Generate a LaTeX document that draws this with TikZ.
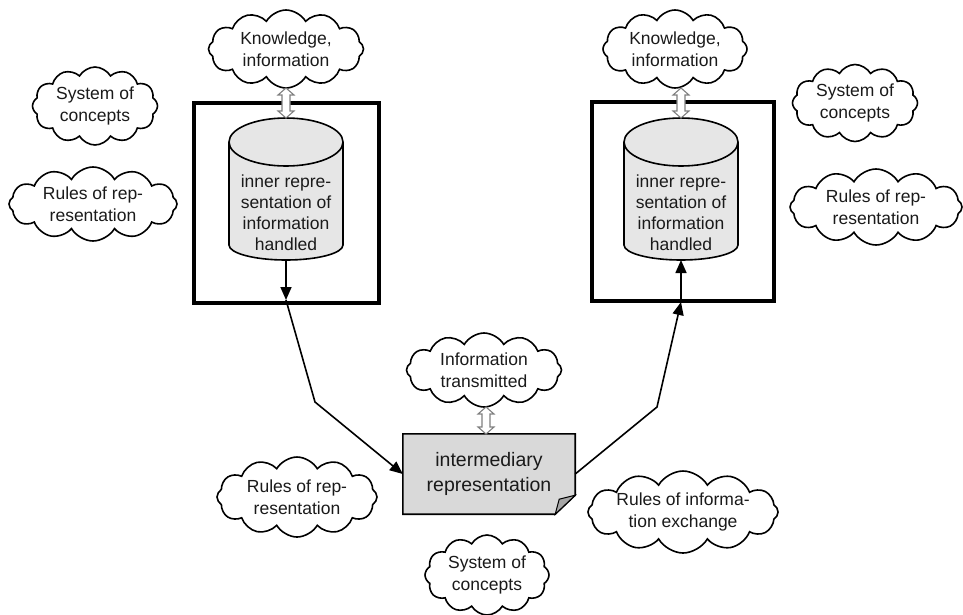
\documentclass[tikz,border=0pt]{standalone}
\usepackage{fontspec}
\setmainfont{Liberation Sans}
\usetikzlibrary{shapes.symbols,arrows.meta,calc}
\definecolor{cylgray}{HTML}{E6E6E6}
\definecolor{boxgray}{HTML}{D9D9D9}
\definecolor{foldgray}{HTML}{A6A6A6}
\definecolor{txt}{HTML}{1A1A1A}
\begin{document}
\begin{tikzpicture}[x=1pt,y=-1pt,
  cloudnode/.style={cloud, cloud puffs=12, cloud puff arc=120, cloud ignores aspect,
    draw=black, line width=1.6pt, fill=white, align=center, inner sep=0pt,
    text=txt, font=\fontsize{17.5}{22}\selectfont},
  framebox/.style={draw=black, line width=3.3pt},
  cylshape/.style={draw=black, line width=1.6pt, fill=cylgray},
  cyltext/.style={align=center, text=txt, font=\fontsize{17.5}{21}\selectfont},
  conn/.style={draw=black, line width=1.6pt},
  tip/.style={-{Triangle[length=13pt,width=11pt]}},
  hollow/.style={draw=gray, line width=1.1pt, fill=white}]
\useasboundingbox (0,0) rectangle (963,614);

% frames
\draw[framebox] (194,103) rectangle (379,303);
\draw[framebox] (592,102) rectangle (774,301);

% cylinders
\draw[cylshape] (229,142) -- (229,245) arc[start angle=180,end angle=0,x radius=57,y radius=15] -- (343,142);
\draw[cylshape] (286,142) ellipse [x radius=57, y radius=24];
\node[cyltext] (cyl1) at (286,213) {inner repre-\\sentation of\\information\\handled};
\coordinate (c1top) at (286,118);
\coordinate (c1bot) at (286,260);

\draw[cylshape] (624,142) -- (624,245) arc[start angle=180,end angle=0,x radius=57,y radius=15] -- (738,142);
\draw[cylshape] (681,142) ellipse [x radius=57, y radius=24];
\node[cyltext] (cyl2) at (681,213) {inner repre-\\sentation of\\information\\handled};
\coordinate (c2top) at (681,118);
\coordinate (c2bot) at (681,260);

% intermediary representation
\node[align=center, text=txt, font=\fontsize{19.5}{25}\selectfont,
  minimum width=172pt, minimum height=80pt, inner sep=0pt] (im) at (489,474) {};
\draw[line width=1.6pt, fill=boxgray] (im.north west) -- (im.north east) -- ($(im.south east)+(0,-19)$)
  -- ($(im.south east)+(-20,0)$) -- (im.south west) -- cycle;
\draw[line width=1pt, fill=foldgray] ($(im.south east)+(-20,0)$) -- ($(im.south east)+(0,-19)$) -- ($(im.south east)+(-16,-15)$) -- cycle;
\node[align=center, text=txt, font=\fontsize{19.5}{25}\selectfont] at (im) {intermediary\\representation};

% clouds
\node[cloudnode, minimum width=155pt, minimum height=78pt] (kn1) at (286,49) {Knowledge,\\information};
\node[cloudnode, minimum width=144pt, minimum height=78pt] (kn2) at (675,49) {Knowledge,\\information};
\node[cloudnode, minimum width=125pt, minimum height=78pt] (sc1) at (95,106) {System of\\concepts};
\node[cloudnode, minimum width=168pt, minimum height=74pt] (rr1) at (93,204) {Rules of rep-\\resentation};
\node[cloudnode, minimum width=125pt, minimum height=77pt] (sc2) at (855,103) {System of\\concepts};
\node[cloudnode, minimum width=172pt, minimum height=76pt] (rr2) at (876,207) {Rules of rep-\\resentation};
\node[cloudnode, minimum width=155pt, minimum height=74pt] (it) at (484,370) {Information\\transmitted};
\node[cloudnode, minimum width=160pt, minimum height=80pt] (rr3) at (297,497) {Rules of rep-\\resentation};
\node[cloudnode, minimum width=180pt, minimum height=82pt] (ex) at (683,512) {Rules of informa-\\tion exchange};
\node[cloudnode, minimum width=124pt, minimum height=80pt] (sc3) at (487,575) {System of\\concepts};

% hollow double arrows
\newcommand\hollowdbl[3]{%
  \draw[hollow] (#1-4,#2+7) -- (#1-8,#2+7) -- (#1,#2) -- (#1+8,#2+7) -- (#1+4,#2+7)
    -- (#1+4,#3-7) -- (#1+8,#3-7) -- (#1,#3) -- (#1-8,#3-7) -- (#1-4,#3-7) -- cycle;}
\hollowdbl{286}{88}{118}
\hollowdbl{681}{88}{118}
\hollowdbl{486}{407}{434}

% connectors
\coordinate (a1) at (286,300);
\coordinate (bend1) at (315,402);
\coordinate (a2) at (681,302);
\coordinate (bend2) at (657,407);
\draw[conn,tip] (c1bot) -- (a1);
\draw[conn,tip] (a1) -- (bend1) -- (im.west);
\draw[conn,tip] (im.east) -- (bend2) -- (a2);
\draw[conn,tip] (a2) -- (c2bot);
\end{tikzpicture}
\end{document}
